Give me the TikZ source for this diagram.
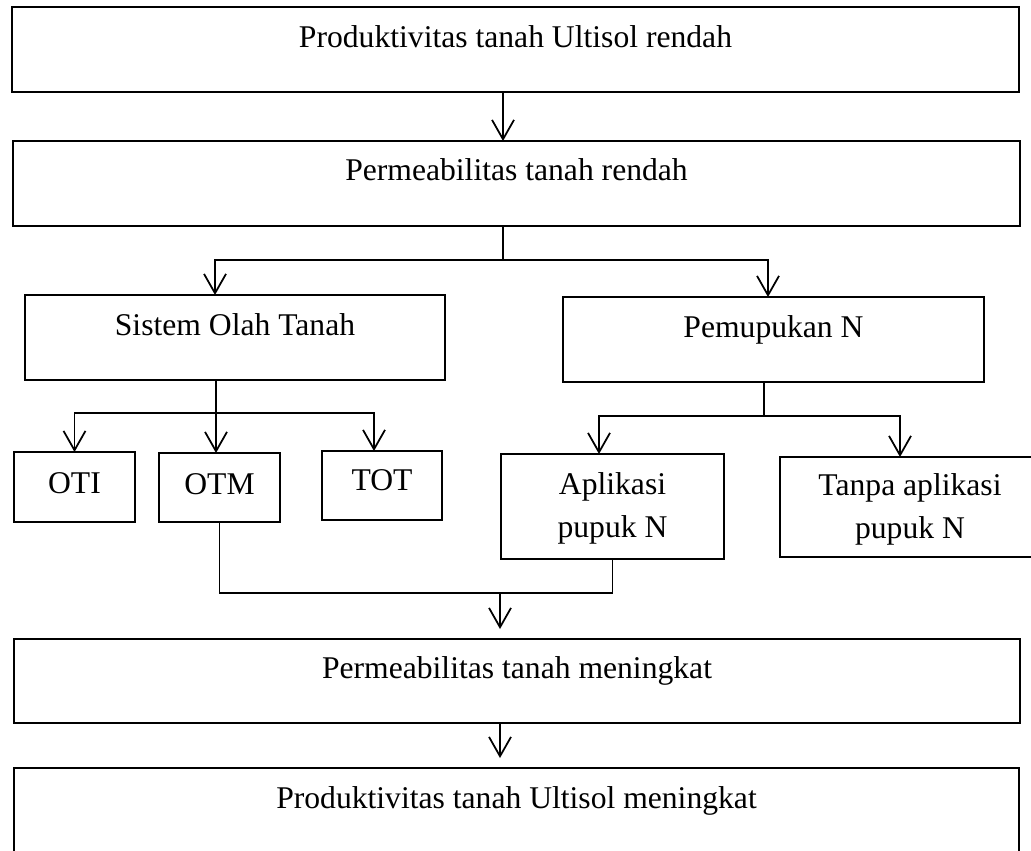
\documentclass[tikz,border=0pt]{standalone}
\usepackage{fontspec}
\setmainfont{Liberation Serif}
\usetikzlibrary{arrows.meta}
\tikzstyle{block} = [rectangle, draw=black, line width=1pt, inner sep=0pt, outer sep=0pt, align=center, font=\fontsize{18}{24.4}\selectfont]
\tikzstyle{arrow} = [line width=1pt, -{Straight Barb[length=11pt, width=12.5pt, line width=1pt]}]
\tikzstyle{line} = [line width=1pt]

\begin{document}
\begin{tikzpicture}[x=0.02cm, y=-0.02cm]
			\clip (0,0) rectangle (1031,850);
			% Nodes
			\node (prod1) [block, minimum width=20.14cm, text height=0.8cm, text depth=0.9cm] at (515.5,49.5) {Produktivitas tanah Ultisol rendah};
			\node (perm1) [block, minimum width=20.14cm, text height=0.78cm, text depth=0.92cm] at (516.5,183.5) {Permeabilitas tanah rendah};
			\node (sot) [block, minimum width=8.4cm, text height=0.8cm, text depth=0.9cm] at (235,337.5) {Sistem Olah Tanah};
			\node (pn) [block, minimum width=8.42cm, text height=0.8cm, text depth=0.9cm] at (773.5,339.5) {Pemupukan N};
			\node (oti) [block, minimum width=2.42cm, text height=0.82cm, text depth=0.58cm] at (74.5,487) {OTI};
			\node (otm) [block, minimum width=2.42cm, text height=0.82cm, text depth=0.56cm] at (219.5,487.5) {OTM};
			\node (tot) [block, minimum width=2.4cm, text height=0.78cm, text depth=0.6cm] at (382,485.5) {TOT};
			\node (apl) [block, minimum width=4.46cm, text height=1.66cm, text depth=0.44cm] at (612.5,506.5) {Aplikasi\\pupuk N};
			\node (tanpa) [block, minimum width=5.2cm, text height=1.62cm, text depth=0.38cm] at (910,507) {Tanpa aplikasi\\pupuk N};
			\node (perm2) [block, minimum width=20.12cm, text height=0.78cm, text depth=0.9cm] at (517,681) {Permeabilitas tanah meningkat};
			\node (prod2) [block, minimum width=20.1cm, text height=0.8cm, text depth=0.9cm] at (516.5,810.5) {Produktivitas tanah Ultisol meningkat};

			% Junctions
			\coordinate (j1) at (503,260);
			\coordinate (j2) at (216,413);
			\coordinate (j3) at (764,416);
			\coordinate (j4) at (500,593);

			% Arrows
			\draw [arrow] ([xshift=-0.25cm]prod1.south) -- ([xshift=-0.25cm]prod1.south |- perm1.north);
			\draw [line] (j1 |- perm1.south) -- (j1);
			\draw [arrow] (j1) -| ([xshift=-0.4cm]sot.north);
			\draw [arrow] (j1) -| ([xshift=-0.11cm]pn.north);
			\draw [line] (j2 |- sot.south) -- (j2);
			\draw [arrow] (j2) -| (oti.north);
			\draw [arrow] (j2) -- (j2 |- otm.north);
			\draw [arrow] (j2) -| ([xshift=-0.16cm]tot.north);
			\draw [line] (j3 |- pn.south) -- (j3);
			\draw [arrow] (j3) -| ([xshift=-0.27cm]apl.north);
			\draw [arrow] (j3) -| ([xshift=-0.2cm]tanpa.north);
			\draw [line] (otm.south) |- (j4) -| (apl.south);
			\draw [arrow, shorten >=0.2cm] (j4) -- (j4 |- perm2.north);
			\draw [arrow, shorten >=0.2cm] ([xshift=-0.34cm]perm2.south) -- ([xshift=-0.34cm]perm2.south |- prod2.north);
		\end{tikzpicture}
\end{document}
